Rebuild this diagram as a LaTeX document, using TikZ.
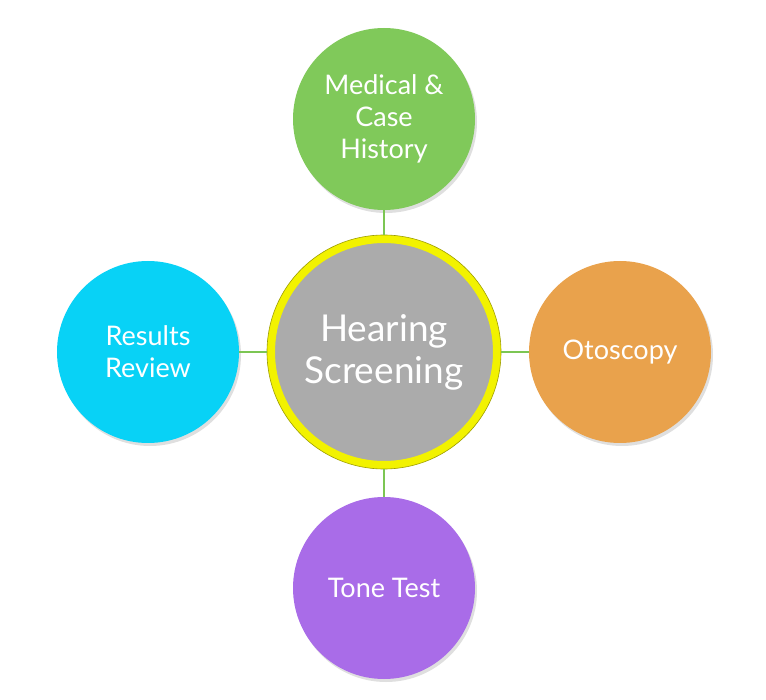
\documentclass[tikz,border=0pt]{standalone}
\usepackage{fontspec}
\setmainfont{Lato}
\usetikzlibrary{shadows}
\definecolor{cgreen}{HTML}{80C95A}
\definecolor{ccyan}{HTML}{08D2F6}
\definecolor{corange}{HTML}{E9A24C}
\definecolor{cpurple}{HTML}{A96CE8}
\definecolor{cgray}{HTML}{ABABAB}
\definecolor{cyellow}{HTML}{F2F200}
\definecolor{cline}{HTML}{7CC653}
\tikzset{
  bubble/.style={circle, minimum size=182pt, inner sep=0pt, text=white, align=center,
    font=\fontsize{27}{32}\selectfont,
    drop shadow={opacity=0.25, shadow xshift=2pt, shadow yshift=-3pt}},
  hub/.style={circle, minimum size=226pt, inner sep=0pt, fill=cgray, draw=cyellow,
    line width=8pt, text=white, align=center, font=\fontsize{37}{42}\selectfont,
    drop shadow={opacity=0.25, shadow xshift=2pt, shadow yshift=-3pt}},
  link/.style={draw=cline, line width=2pt}
}
\begin{document}
\begin{tikzpicture}[x=1pt,y=-1pt]
\useasboundingbox (0,0) rectangle (766,700);
\node[hub] (c) at (384,352) {Hearing\\Screening};
\draw[draw=black!35!cyellow, line width=0.6pt] (c.center) circle (117);
\node[bubble, fill=cgreen] (t) at (384,119) {Medical \&\\Case\\History};
\node[bubble, fill=ccyan] (l) at (148,352) {Results\\Review};
\node[bubble, fill=corange] (r) at (620,352) {Otoscopy};
\node[bubble, fill=cpurple] (b) at (384,588) {Tone Test};
\draw[link] (t.south) -- (c.north);
\draw[link] (l.east) -- (c.west);
\draw[link] (r.west) -- (c.east);
\draw[link] (b.north) -- (c.south);
\end{tikzpicture}
\end{document}
